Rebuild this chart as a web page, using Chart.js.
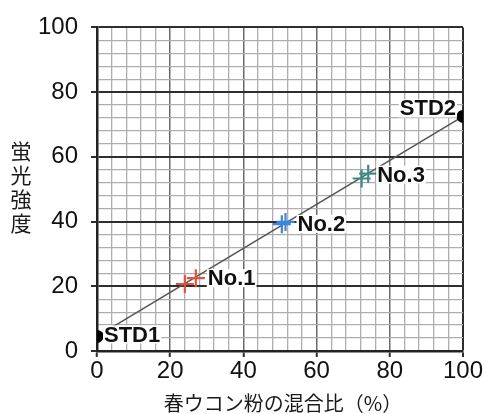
<!DOCTYPE html>
<html>
<head>
<meta charset="utf-8">
<script src="https://cdn.jsdelivr.net/npm/chart.js@4.4.1/dist/chart.umd.min.js"></script>
<style>
html,body{margin:0;padding:0;background:#fff;}
#wrap{width:487px;height:414px;position:relative;}
</style>
</head>
<body>
<div id="wrap"><canvas id="c" width="487" height="414"></canvas></div>
<script>
// ---- data ----
const stdLabels = ['STD1', 'STD2'];
const stdX = [0, 100];
const stdY = [4.5, 72.5];
const no1X = [24, 27];
const no1Y = [20.7, 22.5];
const no2X = [50.5, 51.5];
const no2Y = [39.2, 39.9];
const no3X = [72.3, 74.1];
const no3Y = [53.3, 54.8];
const sampleLabels = ['No.1', 'No.2', 'No.3'];
const xTitle = '春ウコン粉の混合比（%）';
const yTitleChars = ['蛍', '光', '強', '度'];
const axisMin = 0, axisMax = 100, minorStep = 4, majorStep = 20;

const pts = (xs, ys) => xs.map((x, i) => ({x: x, y: ys[i]}));

const LATIN = '"Liberation Sans", Arial, sans-serif';
const CJK = '"Noto Sans CJK JP", sans-serif';

const labelPlugin = {
  id: 'labels',
  afterDatasetsDraw(chart) {
    const ctx = chart.ctx;
    const xs = chart.scales.x, ys = chart.scales.y;
    const items = [
      {t: stdLabels[0], x: stdX[0], y: stdY[0], dx: 7, dy: -2, align: 'left'},
      {t: stdLabels[1], x: stdX[1], y: stdY[1], dx: -7, dy: -8, align: 'right'},
      {t: sampleLabels[0], x: no1X[1], y: no1Y[1], dx: 12, dy: 0, align: 'left'},
      {t: sampleLabels[1], x: no2X[1], y: no2Y[1], dx: 12, dy: 2, align: 'left'},
      {t: sampleLabels[2], x: no3X[1], y: no3Y[1], dx: 9, dy: 1, align: 'left'}
    ];
    ctx.save();
    ctx.font = 'bold 22px ' + LATIN;
    ctx.textBaseline = 'middle';
    items.forEach(it => {
      const px = xs.getPixelForValue(it.x) + it.dx;
      const py = ys.getPixelForValue(it.y) + it.dy;
      const w = ctx.measureText(it.t).width;
      const left = it.align === 'left' ? px : px - w;
      ctx.fillStyle = '#fff';
      ctx.fillRect(left - 1, py - 9, w + 2, 18);
      ctx.fillStyle = '#111';
      ctx.textAlign = it.align;
      ctx.fillText(it.t, px, py + 1);
    });
    ctx.restore();
  },
  afterDraw(chart) {
    const ctx = chart.ctx;
    const a = chart.chartArea;
    ctx.save();
    ctx.fillStyle = '#1a1a1a';
    ctx.textAlign = 'center';
    ctx.textBaseline = 'middle';
    ctx.font = '20px ' + CJK;
    ctx.fillText(xTitle, (a.left + a.right) / 2 + 3, 403);
    ctx.font = '21px ' + CJK;
    yTitleChars.forEach((ch, i) => {
      ctx.fillText(ch, 21, 151 + i * 24);
    });
    ctx.restore();
  }
};

const gridOpts = (isY) => ({
  color: c => {
    const v = c.tick ? c.tick.value : 0;
    if (v % majorStep === 0) {
      if (isY || v === axisMax) return '#2e2e2e';
      return '#6a6a6a';
    }
    return '#aeaeae';
  },
  lineWidth: c => {
    const v = c.tick ? c.tick.value : 0;
    if (v % majorStep === 0) return (isY || v === axisMax) ? 2 : 1.5;
    return 1.3;
  },
  tickColor: c => {
    const v = c.tick ? c.tick.value : 0;
    return v % majorStep === 0 ? '#2e2e2e' : 'rgba(0,0,0,0)';
  },
  tickLength: 6,
  tickWidth: 2
});

new Chart(document.getElementById('c'), {
  type: 'scatter',
  data: {
    datasets: [
      {
        type: 'line',
        data: pts(stdX, stdY),
        borderColor: '#555',
        borderWidth: 1.5,
        pointRadius: 6.5,
        pointBackgroundColor: '#000',
        pointBorderColor: '#000',
        pointBorderWidth: 0,
        fill: false,
        order: 2
      },
      {
        data: pts(no1X, no1Y),
        pointStyle: 'cross',
        pointRadius: 9,
        borderColor: '#e2533f',
        borderWidth: 2.2,
        order: 1
      },
      {
        data: pts(no2X, no2Y),
        pointStyle: 'cross',
        pointRadius: 9,
        borderColor: '#3f86d8',
        borderWidth: 2.2,
        order: 1
      },
      {
        data: pts(no3X, no3Y),
        pointStyle: 'cross',
        pointRadius: 9,
        borderColor: '#3d8c8a',
        borderWidth: 2.2,
        order: 1
      }
    ]
  },
  options: {
    responsive: false,
    animation: false,
    devicePixelRatio: 1,
    layout: {padding: {top: 24, right: 24, left: 0, bottom: 0}},
    plugins: {legend: {display: false}, tooltip: {enabled: false}},
    scales: {
      x: {
        type: 'linear',
        min: axisMin, max: axisMax,
        afterFit: s => { s.height = 63; },
        border: {color: '#222', width: 2.5},
        grid: gridOpts(false),
        ticks: {
          stepSize: minorStep,
          autoSkip: false,
          maxRotation: 0,
          padding: 0,
          color: '#111',
          font: {family: LATIN, size: 24},
          callback: v => (v % majorStep === 0 ? String(v) : '')
        }
      },
      y: {
        type: 'linear',
        min: axisMin, max: axisMax,
        afterFit: s => { s.width = 97; },
        border: {color: '#222', width: 2.5},
        grid: gridOpts(true),
        ticks: {
          stepSize: minorStep,
          autoSkip: false,
          padding: 13,
          color: '#111',
          font: {family: LATIN, size: 24},
          callback: v => (v % majorStep === 0 ? String(v) : '')
        }
      }
    }
  },
  plugins: [labelPlugin]
});
</script>
</body>
</html>
